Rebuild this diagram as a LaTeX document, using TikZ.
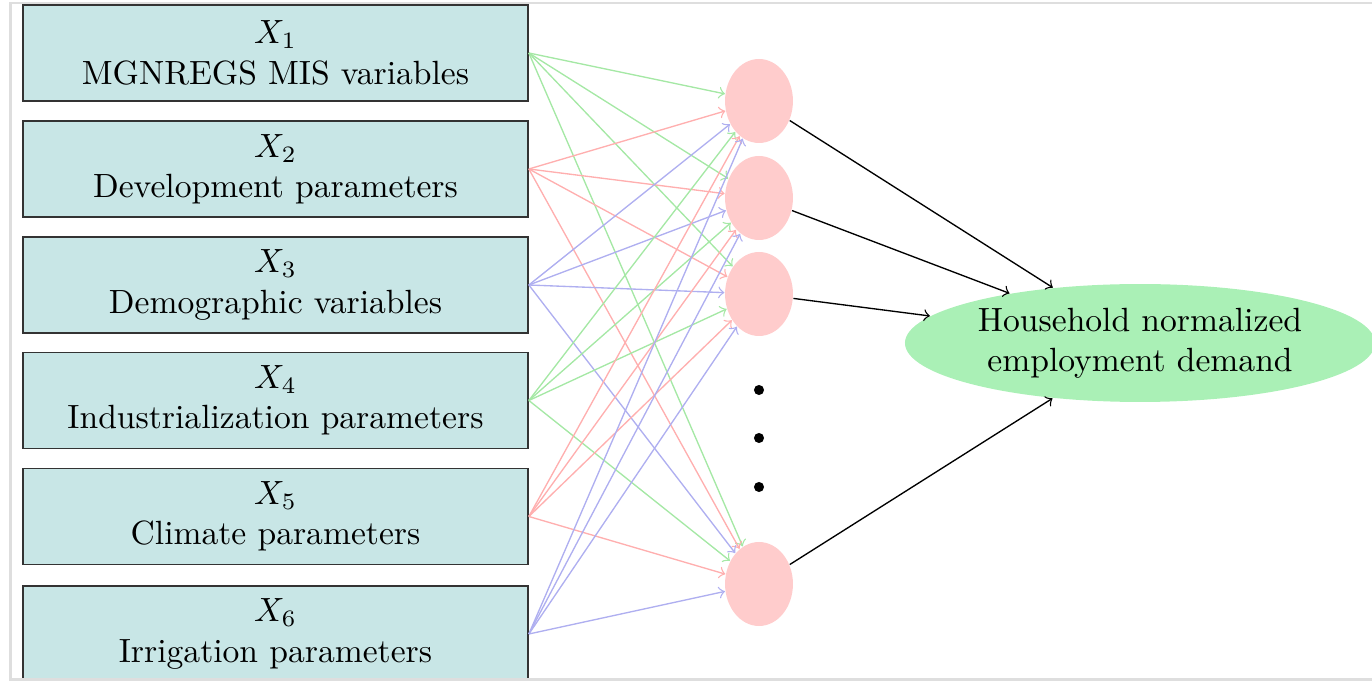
\documentclass[tikz,border=0pt]{standalone}
\usetikzlibrary{shapes.geometric}
\definecolor{lgreen}{RGB}{165,232,165}
\definecolor{lred}{RGB}{255,175,175}
\definecolor{lblue}{RGB}{175,175,240}
\definecolor{outgreen}{RGB}{170,240,182}
\definecolor{boxfill}{RGB}{200,230,230}
\definecolor{framegray}{RGB}{222,222,222}
\begin{document}
\begin{tikzpicture}[x=0.2976pt,y=-0.2976pt,
  inbox/.style={draw=black!80, line width=0.5pt, fill=boxfill, minimum width=150.3pt, minimum height=28.6pt, inner sep=0pt, align=center},
  hid/.style={ellipse, fill=red!20, minimum width=20.2pt, minimum height=25pt, inner sep=0pt},
  dotnode/.style={circle, fill=black, inner sep=0pt, minimum size=3pt},
  outnode/.style={ellipse, fill=outgreen, minimum width=139.9pt, minimum height=35.1pt, inner sep=0pt, align=center},
  conn/.style={->, line width=0.4pt}]
\useasboundingbox (0,0) rectangle (1372,681);
\clip (0,0) rectangle (1372,681);
\node[inbox] (x1) at (275.5,53) {$X_1$\\MGNREGS MIS variables};
\node[inbox] (x2) at (275.5,169) {$X_2$\\Development parameters};
\node[inbox] (x3) at (275.5,285) {$X_3$\\Demographic variables};
\node[inbox] (x4) at (275.5,400.5) {$X_4$\\Industrialization parameters};
\node[inbox] (x5) at (275.5,516.5) {$X_5$\\Climate parameters};
\node[inbox] (x6) at (275.5,634) {$X_6$\\Irrigation parameters};
\node[hid] (h1) at (759,101) {};
\node[hid] (h2) at (759,198) {};
\node[hid] (h3) at (759,294) {};
\node[hid] (h4) at (759,584) {};
\node[dotnode] (d1) at (759,390) {};
\node[dotnode] (d2) at (759,438) {};
\node[dotnode] (d3) at (759,487) {};
\node[outnode] (o) at (1140,343) {Household normalized\\employment demand};
\foreach \i/\c in {1/lgreen,2/lred,3/lblue,4/lgreen,5/lred,6/lblue}
  \foreach \j in {1,...,4}
    \draw[conn, \c] (x\i.east) -- (h\j);
\foreach \j in {1,...,4}
  \draw[conn, black] (h\j) -- (o);
\draw[framegray, line width=0.6pt] (10.5,3.5) rectangle (1420,679.5);
\end{tikzpicture}
\end{document}
